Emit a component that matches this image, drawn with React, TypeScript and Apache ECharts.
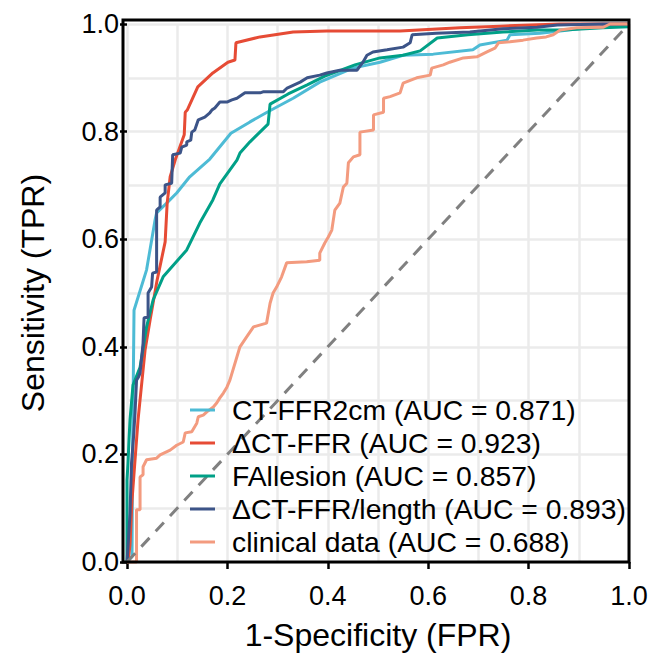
import React, { useEffect, useRef } from "react";
import * as echarts from "echarts";

const ctFfr2cm: [number, number][] = [
  [0, 0], [0.01, 0.01], [0.011, 0.2], [0.014, 0.468], [0.039, 0.543], [0.056, 0.636],
  [0.059, 0.649], [0.079, 0.667], [0.099, 0.686], [0.125, 0.716], [0.165, 0.749],
  [0.207, 0.797], [0.245, 0.818], [0.279, 0.836], [0.331, 0.862], [0.384, 0.892],
  [0.45, 0.918], [0.504, 0.929], [0.55, 0.942], [0.61, 0.944], [0.689, 0.952],
  [0.703, 0.961], [0.757, 0.97], [0.763, 0.98], [0.823, 0.983], [0.863, 0.987],
  [0.916, 0.993], [0.942, 0.994], [1.0, 1.0],
];

const deltaCtFfr: [number, number][] = [
  [0, 0], [0.002, 0], [0.006, 0.032], [0.01, 0.115], [0.016, 0.19], [0.022, 0.264],
  [0.028, 0.32], [0.036, 0.394], [0.046, 0.45], [0.06, 0.524], [0.076, 0.595],
  [0.08, 0.667], [0.086, 0.716], [0.096, 0.747], [0.114, 0.794], [0.116, 0.836],
  [0.12, 0.84], [0.141, 0.883], [0.171, 0.909], [0.201, 0.929], [0.215, 0.933],
  [0.217, 0.965], [0.265, 0.976], [0.331, 0.985], [0.398, 0.987], [0.544, 0.987],
  [0.663, 0.993], [0.743, 0.996], [0.863, 1.0], [1.0, 1.0],
];

const fallesion: [number, number][] = [
  [0, 0], [0, 0.152], [0.002, 0.184], [0.004, 0.227], [0.006, 0.264], [0.012, 0.329],
  [0.026, 0.362], [0.039, 0.437], [0.052, 0.487], [0.072, 0.53], [0.119, 0.58],
  [0.145, 0.63], [0.171, 0.673], [0.185, 0.703], [0.219, 0.747], [0.225, 0.76],
  [0.245, 0.781], [0.281, 0.814], [0.285, 0.851], [0.321, 0.87], [0.359, 0.887],
  [0.394, 0.903], [0.454, 0.924], [0.504, 0.937], [0.55, 0.942], [0.584, 0.95],
  [0.618, 0.974], [0.679, 0.98], [0.749, 0.985], [0.817, 0.989], [0.869, 0.989],
  [0.948, 0.993], [1.0, 0.995],
];

const deltaCtFfrLength: [number, number][] = [
  [0, 0], [0.002, 0.028], [0.006, 0.091], [0.009, 0.184], [0.013, 0.232], [0.016, 0.277],
  [0.019, 0.338], [0.023, 0.344], [0.026, 0.351], [0.032, 0.407], [0.034, 0.454],
  [0.042, 0.455], [0.042, 0.5], [0.049, 0.511], [0.051, 0.537], [0.059, 0.539],
  [0.059, 0.654], [0.066, 0.66], [0.066, 0.678], [0.076, 0.686], [0.076, 0.701],
  [0.089, 0.704], [0.091, 0.757], [0.106, 0.76], [0.109, 0.771], [0.119, 0.775],
  [0.119, 0.781], [0.127, 0.784], [0.129, 0.799], [0.135, 0.803], [0.142, 0.822],
  [0.155, 0.827], [0.165, 0.835], [0.169, 0.84], [0.175, 0.844], [0.185, 0.855],
  [0.199, 0.855], [0.209, 0.859], [0.219, 0.862], [0.235, 0.872], [0.265, 0.872],
  [0.271, 0.874], [0.311, 0.874], [0.319, 0.881], [0.345, 0.892], [0.359, 0.9],
  [0.384, 0.905], [0.398, 0.909], [0.424, 0.914], [0.458, 0.914], [0.47, 0.929],
  [0.478, 0.942], [0.49, 0.948], [0.518, 0.952], [0.55, 0.957], [0.564, 0.965],
  [0.568, 0.98], [0.616, 0.983], [0.683, 0.985], [0.749, 0.991], [0.817, 0.994],
  [0.857, 0.998], [0.948, 1.0], [1.0, 1.0],
];

const clinicalData: [number, number][] = [
  [0, 0], [0.019, 0], [0.019, 0.097], [0.026, 0.097], [0.026, 0.158], [0.032, 0.162],
  [0.032, 0.177], [0.039, 0.19], [0.059, 0.193], [0.066, 0.199], [0.086, 0.208],
  [0.099, 0.217], [0.112, 0.223], [0.116, 0.24], [0.129, 0.242], [0.139, 0.258],
  [0.142, 0.27], [0.152, 0.273], [0.159, 0.279], [0.172, 0.288], [0.179, 0.296],
  [0.185, 0.305], [0.192, 0.314], [0.199, 0.325], [0.205, 0.338], [0.225, 0.4],
  [0.238, 0.418], [0.252, 0.437], [0.278, 0.444], [0.285, 0.481], [0.291, 0.5],
  [0.298, 0.511], [0.308, 0.53], [0.318, 0.556], [0.358, 0.558], [0.384, 0.561],
  [0.384, 0.574], [0.394, 0.593], [0.401, 0.604], [0.408, 0.617], [0.414, 0.654],
  [0.424, 0.667], [0.431, 0.697], [0.438, 0.704], [0.441, 0.742], [0.451, 0.753],
  [0.464, 0.757], [0.464, 0.799], [0.491, 0.803], [0.491, 0.831], [0.511, 0.836],
  [0.511, 0.862], [0.524, 0.865], [0.544, 0.872], [0.55, 0.89], [0.577, 0.9],
  [0.604, 0.905], [0.607, 0.918], [0.63, 0.924], [0.643, 0.929], [0.67, 0.937],
  [0.697, 0.939], [0.717, 0.948], [0.733, 0.955], [0.74, 0.965], [0.763, 0.967],
  [0.789, 0.97], [0.816, 0.974], [0.835, 0.976], [0.849, 0.98], [0.863, 0.989],
  [0.896, 0.993], [0.949, 0.994], [0.962, 1.0], [1.0, 1.0],
];

const chanceLine: [number, number][] = [[0, 0], [1, 1]];

const seriesNames = [
  "CT-FFR2cm (AUC = 0.871)",
  "ΔCT-FFR (AUC = 0.923)",
  "FAllesion (AUC = 0.857)",
  "ΔCT-FFR/length (AUC = 0.893)",
  "clinical data (AUC = 0.688)",
];
const seriesColors = ["#4DBBD5", "#E64B35", "#00A087", "#3C5488", "#F39B7F"];
const seriesValues = [ctFfr2cm, deltaCtFfr, fallesion, deltaCtFfrLength, clinicalData];

const xTitle = "1-Specificity (FPR)";
const yTitle = "Sensitivity (TPR)";

export default function App() {
  const ref = useRef<HTMLDivElement>(null);
  useEffect(() => {
    if (!ref.current) return;
    const chart = echarts.init(ref.current, null, { renderer: "svg" });
    const font = "'Liberation Sans', Arial, sans-serif";
    const gridLine = { show: true, lineStyle: { color: "#ebebeb", width: 2.5 } };
    const axisCommon = {
      type: "value",
      min: 0,
      max: 1,
      interval: 0.2,
      axisLine: { show: false },
      axisTick: { show: true, length: 7, lineStyle: { color: "#000", width: 2.5 } },
      splitLine: gridLine,
      minorTick: { show: false, splitNumber: 2 },
      minorSplitLine: gridLine,
      nameLocation: "middle",
      nameTextStyle: { fontSize: 32, color: "#000", fontFamily: font },
    };
    chart.setOption({
      animation: false,
      grid: { left: 127, top: 24, width: 502, height: 538 },
      xAxis: {
        ...axisCommon,
        name: xTitle,
        nameGap: 57,
        axisLabel: {
          color: "#000",
          fontSize: 27,
          fontFamily: font,
          margin: 20,
          formatter: (v: number) => v.toFixed(1),
        },
      },
      yAxis: {
        ...axisCommon,
        offset: 4,
        name: yTitle,
        nameGap: 74,
        axisLabel: {
          color: "#000",
          fontSize: 27,
          fontFamily: font,
          margin: 4,
          formatter: (v: number) => v.toFixed(1),
        },
      },
      legend: {
        left: 190,
        top: 396,
        orient: "vertical",
        padding: 0,
        itemWidth: 25,
        itemHeight: 3,
        itemGap: 5,
        icon: "rect",
        data: seriesNames,
        selectedMode: false,
        textStyle: {
          fontSize: 28.3,
          lineHeight: 28,
          fontFamily: font,
          color: "#000",
          padding: [0, 0, 0, 12],
        },
      },
      series: [
        ...seriesValues.map((d, i) => ({
          type: "line",
          name: seriesNames[i],
          data: d,
          color: seriesColors[i],
          symbol: "none",
          showSymbol: false,
          clip: false,
          lineStyle: { width: 3, color: seriesColors[i] },
          emphasis: { disabled: true },
          z: 3,
        })),
        {
          type: "line",
          name: "chance",
          data: chanceLine,
          symbol: "none",
          showSymbol: false,
          clip: false,
          lineStyle: { width: 3, color: "#808080", type: [12, 9] },
          emphasis: { disabled: true },
          z: 3,
        },
      ],
      graphic: [
        {
          type: "rect",
          shape: { x: 123, y: 20, width: 506, height: 542 },
          style: { fill: "none", stroke: "#000", lineWidth: 3 },
          z: 100,
          silent: true,
        },
      ],
    });
    return () => chart.dispose();
  }, []);
  return (
    <div
      ref={ref}
      style={{ position: "absolute", left: 0, top: 0, width: 651, height: 658 }}
    />
  );
}
